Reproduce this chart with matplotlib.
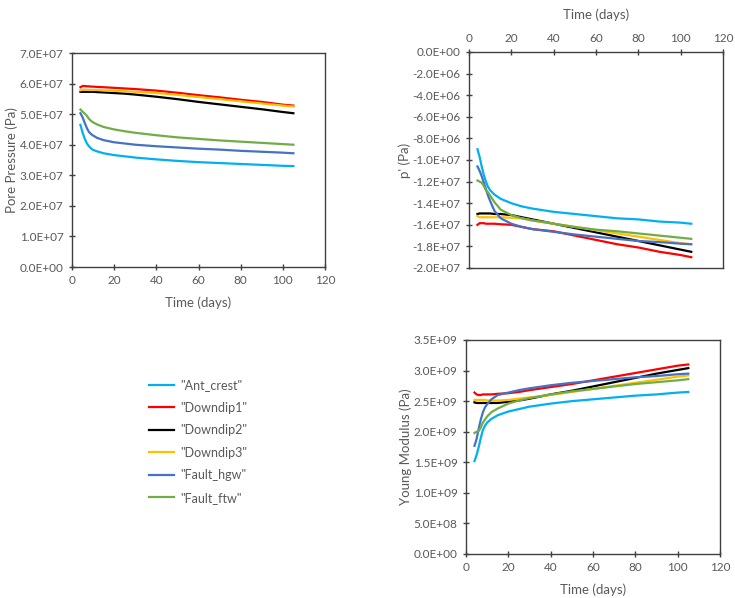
import matplotlib
matplotlib.use("Agg")
import matplotlib.pyplot as plt
from matplotlib.ticker import FuncFormatter, MultipleLocator

plt.rcParams['font.family'] = ['Lato', 'DejaVu Sans']

# time axis (days)
tempo = [4, 5, 6, 7, 8, 9, 10, 12, 15, 20, 25, 30, 40, 50, 60, 70, 80, 90, 100, 105]

nomes = ['"Ant_crest"', '"Downdip1"', '"Downdip2"', '"Downdip3"', '"Fault_hgw"', '"Fault_ftw"']
cores = ["#00B0F0", "#FF0000", "#000000", "#FFC000", "#4472C4", "#70AD47"]

# pore pressure (x1e7 Pa)
pp_ant = [4.65, 4.4, 4.2, 4.05, 3.95, 3.88, 3.83, 3.78, 3.72, 3.66, 3.62, 3.58, 3.52, 3.47, 3.43, 3.4, 3.37, 3.34, 3.31, 3.3]
pp_dd1 = [5.88, 5.92, 5.92, 5.91, 5.91, 5.9, 5.9, 5.89, 5.88, 5.86, 5.84, 5.82, 5.77, 5.7, 5.62, 5.55, 5.47, 5.4, 5.31, 5.28]
pp_dd2 = [5.73, 5.73, 5.73, 5.73, 5.73, 5.73, 5.73, 5.72, 5.71, 5.69, 5.67, 5.64, 5.57, 5.49, 5.4, 5.32, 5.24, 5.16, 5.07, 5.03]
pp_dd3 = [5.78, 5.8, 5.8, 5.8, 5.79, 5.79, 5.79, 5.79, 5.78, 5.76, 5.75, 5.73, 5.69, 5.63, 5.56, 5.49, 5.42, 5.35, 5.28, 5.25]
pp_hgw = [5.03, 4.9, 4.72, 4.55, 4.42, 4.35, 4.3, 4.22, 4.15, 4.08, 4.04, 4.0, 3.95, 3.91, 3.87, 3.84, 3.8, 3.77, 3.74, 3.72]
pp_ftw = [5.15, 5.08, 5.02, 4.95, 4.85, 4.78, 4.73, 4.66, 4.58, 4.5, 4.44, 4.39, 4.31, 4.24, 4.19, 4.14, 4.1, 4.06, 4.02, 4.0]

# p' (x1e7 Pa)
pe_ant = [-0.9, -0.97, -1.06, -1.14, -1.2, -1.25, -1.28, -1.32, -1.36, -1.4, -1.43, -1.45, -1.48, -1.5, -1.52, -1.54, -1.55, -1.57, -1.58, -1.59]
pe_dd1 = [-1.6, -1.585, -1.585, -1.585, -1.59, -1.59, -1.59, -1.59, -1.595, -1.6, -1.62, -1.64, -1.66, -1.7, -1.74, -1.78, -1.81, -1.85, -1.88, -1.9]
pe_dd2 = [-1.5, -1.495, -1.495, -1.495, -1.495, -1.495, -1.495, -1.5, -1.5, -1.51, -1.53, -1.55, -1.59, -1.63, -1.67, -1.71, -1.75, -1.79, -1.83, -1.85]
pe_dd3 = [-1.52, -1.53, -1.53, -1.53, -1.53, -1.53, -1.53, -1.53, -1.53, -1.535, -1.54, -1.56, -1.59, -1.62, -1.65, -1.68, -1.71, -1.74, -1.77, -1.78]
pe_hgw = [-1.06, -1.1, -1.15, -1.21, -1.27, -1.33, -1.38, -1.47, -1.54, -1.59, -1.62, -1.64, -1.665, -1.69, -1.71, -1.73, -1.75, -1.76, -1.775, -1.78]
pe_ftw = [-1.19, -1.2, -1.21, -1.24, -1.28, -1.3, -1.33, -1.39, -1.46, -1.51, -1.54, -1.56, -1.59, -1.62, -1.645, -1.66, -1.68, -1.7, -1.72, -1.73]

# Young modulus (x1e9 Pa)
ym_ant = [1.52, 1.62, 1.75, 1.9, 2.03, 2.1, 2.15, 2.21, 2.27, 2.33, 2.37, 2.41, 2.46, 2.5, 2.53, 2.56, 2.59, 2.61, 2.64, 2.65]
ym_dd1 = [2.64, 2.61, 2.6, 2.6, 2.61, 2.61, 2.61, 2.61, 2.62, 2.63, 2.65, 2.68, 2.73, 2.78, 2.84, 2.9, 2.96, 3.02, 3.08, 3.1]
ym_dd2 = [2.48, 2.47, 2.47, 2.47, 2.47, 2.47, 2.47, 2.47, 2.47, 2.49, 2.51, 2.54, 2.61, 2.67, 2.74, 2.81, 2.88, 2.95, 3.01, 3.04]
ym_dd3 = [2.52, 2.52, 2.52, 2.52, 2.52, 2.52, 2.51, 2.51, 2.51, 2.52, 2.54, 2.56, 2.6, 2.65, 2.7, 2.75, 2.8, 2.85, 2.9, 2.92]
ym_hgw = [1.77, 1.88, 2.05, 2.2, 2.32, 2.4, 2.45, 2.53, 2.6, 2.64, 2.68, 2.71, 2.76, 2.8, 2.83, 2.86, 2.89, 2.91, 2.94, 2.95]
ym_ftw = [1.98, 2.0, 2.01, 2.07, 2.15, 2.2, 2.25, 2.32, 2.38, 2.46, 2.51, 2.55, 2.61, 2.66, 2.7, 2.74, 2.78, 2.81, 2.84, 2.86]

TXT = "#595959"
FS = 8.5
W, H = 735, 598


def ax_px(fig, l, t, r, b):
    return fig.add_axes([l / W, (H - b) / H, (r - l) / W, (b - t) / H])


def estilo(ax):
    ax.tick_params(direction="inout", length=5, width=1, colors="#404040",
                   labelcolor=TXT, labelsize=FS)
    for s in ax.spines.values():
        s.set_color("#404040")
        s.set_linewidth(1.0)
    ax.yaxis.set_major_formatter(FuncFormatter(lambda v, p: f"{v:.1E}"))
    ax.set_xlim(0, 120)
    ax.xaxis.set_major_locator(MultipleLocator(20))


fig = plt.figure(figsize=(W / 100, H / 100), dpi=100)

# pore pressure
ax1 = ax_px(fig, 72, 53, 325, 267)
for serie, cor, nome in zip([pp_ant, pp_dd1, pp_dd2, pp_dd3, pp_hgw, pp_ftw], cores, nomes):
    ax1.plot(tempo, [v * 1e7 for v in serie], color=cor, lw=1.6, label=nome)
ax1.set_ylim(0, 7e7)
ax1.yaxis.set_major_locator(MultipleLocator(1e7))
estilo(ax1)
ax1.set_xlabel("Time (days)", color=TXT, fontsize=FS + 1, labelpad=7)
ax1.set_ylabel("Pore Pressure (Pa)", color=TXT, fontsize=FS + 1, labelpad=1)

# p'
ax2 = ax_px(fig, 469, 52, 723, 268)
for serie, cor in zip([pe_ant, pe_dd1, pe_dd2, pe_dd3, pe_hgw, pe_ftw], cores):
    ax2.plot(tempo, [v * 1e7 for v in serie], color=cor, lw=1.6)
ax2.set_ylim(-2e7, 0)
ax2.yaxis.set_major_locator(MultipleLocator(2e6))
estilo(ax2)
ax2.xaxis.tick_top()
ax2.xaxis.set_label_position("top")
ax2.set_xlabel("Time (days)", color=TXT, fontsize=FS + 1, labelpad=10)
ax2.set_ylabel("p' (Pa)", color=TXT, fontsize=FS + 1, labelpad=1)

# Young modulus
ax3 = ax_px(fig, 466, 340, 720, 554)
for serie, cor in zip([ym_ant, ym_dd1, ym_dd2, ym_dd3, ym_hgw, ym_ftw], cores):
    ax3.plot(tempo, [v * 1e9 for v in serie], color=cor, lw=1.6)
ax3.set_ylim(0, 3.5e9)
ax3.yaxis.set_major_locator(MultipleLocator(5e8))
estilo(ax3)
ax3.set_xlabel("Time (days)", color=TXT, fontsize=FS + 1, labelpad=7)
ax3.set_ylabel("Young Modulus (Pa)", color=TXT, fontsize=FS + 1, labelpad=1)

handles, labels = ax1.get_legend_handles_labels()
leg = fig.legend(handles, labels, loc="upper left", bbox_to_anchor=(138 / W, 1 - 368 / H),
                 frameon=False, fontsize=9, labelspacing=0.84, handlelength=2.0,
                 handletextpad=0.5)
for t in leg.get_texts():
    t.set_color(TXT)

fig.savefig("out.png", dpi=100)
